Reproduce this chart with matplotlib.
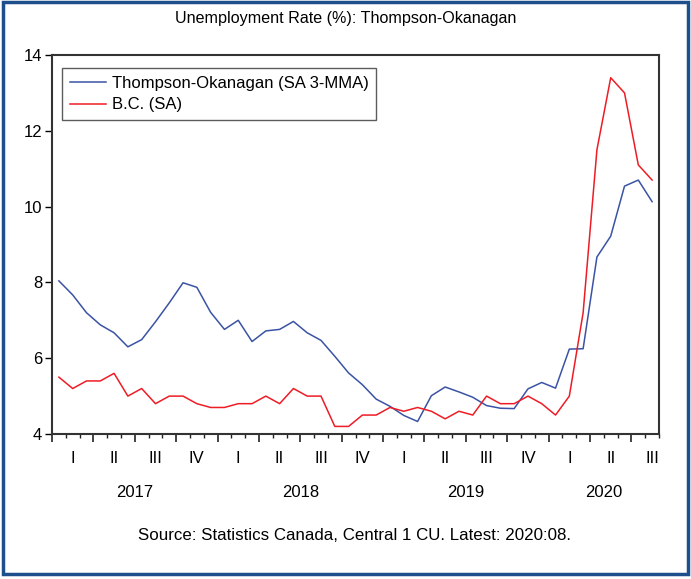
import matplotlib.pyplot as plt
from matplotlib.patches import Rectangle
from matplotlib.ticker import MultipleLocator
import numpy as np

plt.rcParams['font.family'] = ['Liberation Sans', 'DejaVu Sans']

# Monthly data Jan 2017 - Aug 2020
thompson = [8.04, 7.67, 7.20, 6.88, 6.67, 6.30, 6.49, 6.96, 7.46, 7.99, 7.87, 7.21,
            6.76, 7.00, 6.44, 6.72, 6.76, 6.97, 6.67, 6.47, 6.05, 5.61, 5.30, 4.92,
            4.73, 4.49, 4.33, 5.01, 5.24, 5.11, 4.97, 4.75, 4.68, 4.67, 5.19, 5.36,
            5.21, 6.24, 6.25, 8.67, 9.22, 10.54, 10.70, 10.13]
bc = [5.5, 5.2, 5.4, 5.4, 5.6, 5.0, 5.2, 4.8, 5.0, 5.0, 4.8, 4.7,
      4.7, 4.8, 4.8, 5.0, 4.8, 5.2, 5.0, 5.0, 4.2, 4.2, 4.5, 4.5,
      4.7, 4.6, 4.7, 4.6, 4.4, 4.6, 4.5, 5.0, 4.8, 4.8, 5.0, 4.8,
      4.5, 5.0, 7.2, 11.5, 13.4, 13.0, 11.1, 10.7]
quarters = ['I', 'II', 'III', 'IV']
years = ['2017', '2018', '2019', '2020']

months = np.arange(len(thompson)) + 0.5

fig = plt.figure(figsize=(6.91, 5.79), dpi=100)
ax = fig.add_axes([52 / 691, 145 / 579, 607 / 691, 379 / 579])

ax.plot(months, thompson, color='#3a53a4', lw=1.1, label='Thompson-Okanagan (SA 3-MMA)')
ax.plot(months, bc, color='#ee1c25', lw=1.1, label='B.C. (SA)')

ax.set_xlim(0, len(thompson))
ax.set_ylim(4, 14)
ax.set_yticks([4, 6, 8, 10, 12, 14])
ax.xaxis.set_major_locator(MultipleLocator(3))
ax.xaxis.set_minor_locator(MultipleLocator(1))
ax.set_xticklabels([])
ax.tick_params(axis='x', which='major', length=6, width=1.2, direction='out', color='#222222')
ax.tick_params(axis='x', which='minor', length=3, width=1.0, direction='out', color='#222222')
ax.tick_params(axis='y', length=5, width=1.0, labelsize=12, pad=2)
for s in ax.spines.values():
    s.set_linewidth(1.5)
    s.set_color('#333333')

# quarter and year labels
trans = ax.get_xaxis_transform()
nq = int(np.ceil(len(thompson) / 3))
for q in range(nq):
    ax.text(q * 3 + 1.5, -0.065, quarters[q % 4], transform=trans,
            ha='center', va='center', fontsize=12)
for i, yr in enumerate(years):
    end = min((i + 1) * 12, len(thompson))
    ax.text((i * 12 + end) / 2, -0.155, yr, transform=trans,
            ha='center', va='center', fontsize=12)

leg = ax.legend(loc='upper left', fontsize=12, frameon=True, fancybox=False,
                edgecolor='#333333', handlelength=2.2, handletextpad=0.35,
                borderpad=0.45, labelspacing=0.4, borderaxespad=0,
                bbox_to_anchor=(0.0165, 0.965))
leg.get_frame().set_linewidth(1.0)

fig.text(0.5, 1 - 18 / 579, 'Unemployment Rate (%): Thompson-Okanagan',
         ha='center', va='center', fontsize=11.6)
fig.text(0.513, 1 - 536 / 579, 'Source: Statistics Canada, Central 1 CU. Latest: 2020:08.',
         ha='center', va='center', fontsize=12.2)

# outer border
fig.patches.append(Rectangle((3 / 691, 5 / 579), 685 / 691, 572 / 579,
                             transform=fig.transFigure, fill=False,
                             edgecolor='#1f4e8c', linewidth=2.5))

fig.savefig('out.png', dpi=100)
